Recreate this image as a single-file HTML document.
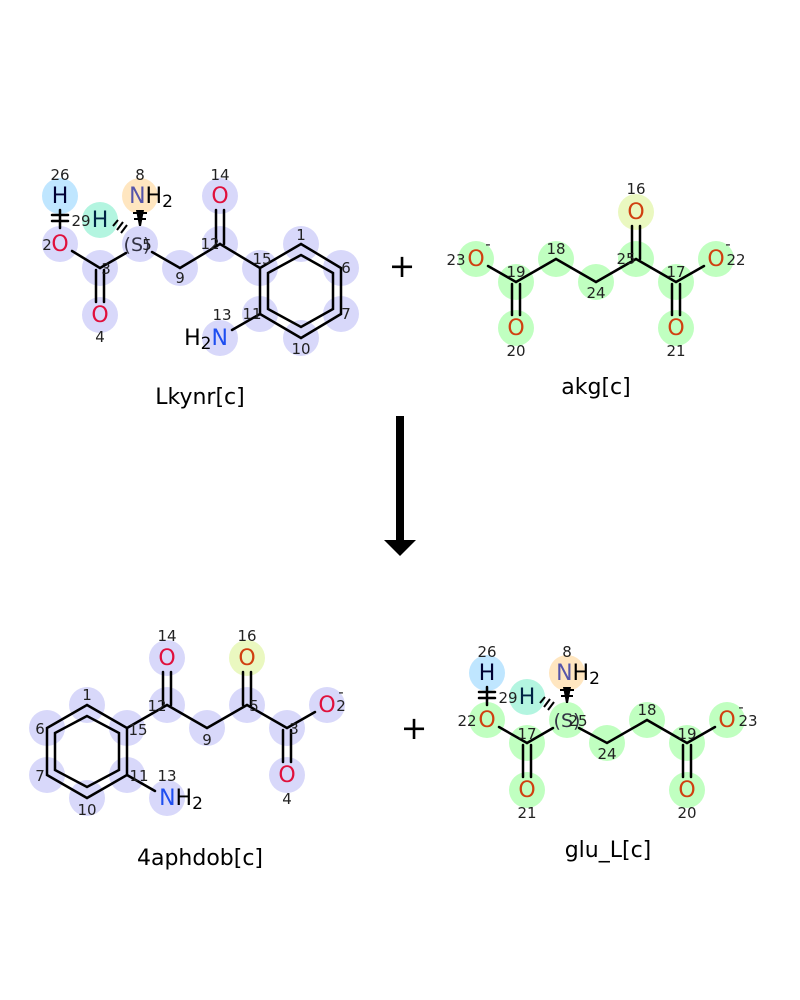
<!DOCTYPE html>
<html><head><meta charset="utf-8"><style>
html,body{margin:0;padding:0;background:#fff;width:800px;height:1000px;overflow:hidden}
svg{font-family:"DejaVu Sans","Liberation Sans",sans-serif}
.b{stroke:#000;stroke-width:2.5;fill:none;stroke-linecap:round}
.e{font-size:22px;text-anchor:middle}
.n{font-size:15px;text-anchor:middle;fill:#222}
.t{font-size:22px;text-anchor:middle}
</style></head><body>
<svg width="800" height="1000" viewBox="0 0 800 1000">
<!-- Lkynr circles -->
<g fill="#d8d8fa">
<circle cx="60" cy="244" r="18"/><circle cx="100" cy="268" r="18"/><circle cx="100" cy="315" r="18"/><circle cx="140" cy="244" r="18"/>
<circle cx="180" cy="268" r="18"/><circle cx="220" cy="244" r="18"/><circle cx="220" cy="196" r="18"/><circle cx="260" cy="268" r="18"/>
<circle cx="301" cy="244" r="18"/><circle cx="341" cy="268" r="18"/><circle cx="341" cy="314" r="18"/><circle cx="301" cy="338" r="18"/>
<circle cx="260" cy="314" r="18"/><circle cx="220" cy="338" r="18"/>
</g>
<circle cx="60" cy="196" r="18" fill="#bfe6ff"/><circle cx="100" cy="220" r="18" fill="#b3f5e0"/><circle cx="140" cy="196" r="18" fill="#ffe6c0"/>
<g class="b">
<line x1="72" y1="251" x2="100" y2="268"/><line x1="96" y1="270" x2="96" y2="302"/><line x1="104" y1="270" x2="104" y2="302"/>
<line x1="100" y1="268" x2="126" y2="253"/><line x1="152" y1="252" x2="180" y2="268"/><line x1="180" y1="268" x2="220" y2="244"/>
<line x1="216" y1="244" x2="216" y2="210"/><line x1="224" y1="244" x2="224" y2="210"/><line x1="220" y1="244" x2="260" y2="268"/>
<polygon points="260,268 301,244 341,268 341,314 301,338 260,314"/>
<polygon points="268,273 301,255 333,273 333,309 301,327 268,309"/>
<line x1="260" y1="314" x2="232" y2="330"/>
<line x1="52" y1="215" x2="68" y2="215"/><line x1="52" y1="221" x2="68" y2="221"/><line x1="60" y1="210" x2="60" y2="228"/>
</g>
<polygon points="136,210 144,210 141,226 139,226" fill="#000"/>
<g stroke="#000" stroke-width="2"><line x1="133" y1="213" x2="147" y2="213"/><line x1="134" y1="219" x2="146" y2="219"/>
<line x1="113" y1="226" x2="118" y2="220"/><line x1="117" y1="230" x2="123" y2="222"/><line x1="121" y1="233" x2="127" y2="225"/></g>
<g class="e">
<text x="60" y="203" fill="#003">H</text><text x="60" y="251" fill="#e0103c">O</text><text x="100" y="322" fill="#e0103c">O</text>
<text x="100" y="227" fill="#024">H</text><text x="151" y="203"><tspan fill="#55a">N</tspan><tspan fill="#000">H</tspan><tspan font-size="17" dy="4">2</tspan></text>
<text x="220" y="203" fill="#e0103c">O</text><text x="206" y="345"><tspan fill="#000">H</tspan><tspan font-size="17" dy="4">2</tspan><tspan dy="-4" fill="#1e4ef0">N</tspan></text>
<text x="137" y="251" fill="#334" font-size="19">(S)</text>
</g>
<g class="n">
<text x="60" y="180">26</text><text x="47" y="250">2</text><text x="106" y="274">3</text><text x="100" y="342">4</text><text x="81" y="226">29</text><text x="147" y="250">5</text>
<text x="140" y="180">8</text><text x="180" y="283">9</text><text x="210" y="249">12</text><text x="220" y="180">14</text><text x="262" y="264">15</text>
<text x="301" y="240">1</text><text x="346" y="273">6</text><text x="346" y="319">7</text><text x="301" y="354">10</text><text x="252" y="319">11</text><text x="222" y="320">13</text>
</g>
<text class="t" x="200" y="404">Lkynr[c]</text>

<!-- akg -->
<g fill="#c0ffc0">
<circle cx="476" cy="259" r="18"/><circle cx="516" cy="282" r="18"/><circle cx="516" cy="328" r="18"/><circle cx="556" cy="259" r="18"/>
<circle cx="596" cy="282" r="18"/><circle cx="636" cy="259" r="18"/><circle cx="676" cy="282" r="18"/><circle cx="676" cy="328" r="18"/><circle cx="716" cy="259" r="18"/>
</g>
<circle cx="636" cy="212" r="18" fill="#eaf8c0"/>
<g class="b">
<line x1="488" y1="266" x2="516" y2="282"/><line x1="512" y1="284" x2="512" y2="315"/><line x1="520" y1="284" x2="520" y2="315"/>
<polyline points="516,282 556,259 596,282 636,259 676,282 704,266"/>
<line x1="632" y1="259" x2="632" y2="226"/><line x1="640" y1="259" x2="640" y2="226"/>
<line x1="672" y1="284" x2="672" y2="315"/><line x1="680" y1="284" x2="680" y2="315"/>
</g>
<g class="e" fill="#d04010">
<text x="476" y="266">O</text><text x="516" y="335">O</text><text x="636" y="219">O</text><text x="676" y="335">O</text><text x="716" y="266">O</text>
</g>
<g class="n">
<text x="456" y="265">23</text><text x="488" y="249">-</text><text x="516" y="277">19</text><text x="516" y="356">20</text><text x="556" y="254">18</text><text x="596" y="298">24</text>
<text x="636" y="194">16</text><text x="626" y="264">25</text><text x="676" y="277">17</text><text x="676" y="356">21</text><text x="736" y="265">22</text><text x="728" y="249">-</text>
</g>
<text class="t" x="596" y="394">akg[c]</text>

<text x="402" y="277" font-size="32" text-anchor="middle">+</text>
<text x="414" y="739" font-size="32" text-anchor="middle">+</text>

<rect x="396" y="416" width="8" height="124" fill="#000"/>
<polygon points="384,540 416,540 400,556" fill="#000"/>

<!-- 4aphdob -->
<g fill="#d8d8fa">
<circle cx="87" cy="705" r="18"/><circle cx="47" cy="728" r="18"/><circle cx="47" cy="775" r="18"/><circle cx="87" cy="798" r="18"/>
<circle cx="127" cy="775" r="18"/><circle cx="127" cy="728" r="18"/><circle cx="167" cy="705" r="18"/><circle cx="167" cy="658" r="18"/>
<circle cx="207" cy="728" r="18"/><circle cx="247" cy="705" r="18"/><circle cx="287" cy="728" r="18"/><circle cx="287" cy="775" r="18"/>
<circle cx="327" cy="705" r="18"/><circle cx="167" cy="798" r="18"/>
</g>
<circle cx="247" cy="658" r="18" fill="#eaf8c0"/>
<g class="b">
<polygon points="87,705 47,728 47,775 87,798 127,775 127,728"/>
<polygon points="87,716 55,733 55,770 87,787 119,770 119,733"/>
<polyline points="127,728 167,705 207,728 247,705 287,728 315,712"/>
<line x1="163" y1="705" x2="163" y2="672"/><line x1="171" y1="705" x2="171" y2="672"/>
<line x1="243" y1="705" x2="243" y2="672"/><line x1="251" y1="705" x2="251" y2="672"/>
<line x1="283" y1="730" x2="283" y2="762"/><line x1="291" y1="730" x2="291" y2="762"/>
<line x1="127" y1="775" x2="155" y2="791"/>
</g>
<g class="e">
<text x="167" y="665" fill="#e0103c">O</text><text x="247" y="665" fill="#d04010">O</text><text x="287" y="782" fill="#e0103c">O</text><text x="327" y="712" fill="#e0103c">O</text>
<text x="181" y="805"><tspan fill="#1e4ef0">N</tspan><tspan fill="#000">H</tspan><tspan font-size="17" dy="4">2</tspan></text>
</g>
<g class="n">
<text x="87" y="700">1</text><text x="40" y="734">6</text><text x="40" y="781">7</text><text x="87" y="815">10</text><text x="139" y="781">11</text><text x="138" y="735">15</text>
<text x="157" y="711">12</text><text x="167" y="641">14</text><text x="207" y="745">9</text><text x="254" y="711">5</text><text x="247" y="641">16</text>
<text x="294" y="734">3</text><text x="287" y="804">4</text><text x="341" y="711">2</text><text x="341" y="697">-</text><text x="167" y="781">13</text>
</g>
<text class="t" x="200" y="865">4aphdob[c]</text>

<!-- glu_L -->
<g fill="#c0ffc0">
<circle cx="487" cy="720" r="18"/><circle cx="527" cy="743" r="18"/><circle cx="527" cy="790" r="18"/><circle cx="567" cy="720" r="18"/>
<circle cx="607" cy="743" r="18"/><circle cx="647" cy="720" r="18"/><circle cx="687" cy="743" r="18"/><circle cx="687" cy="790" r="18"/><circle cx="727" cy="720" r="18"/>
</g>
<circle cx="487" cy="673" r="18" fill="#bfe6ff"/><circle cx="527" cy="697" r="18" fill="#b3f5e0"/><circle cx="567" cy="673" r="18" fill="#ffe6c0"/>
<g class="b">
<line x1="499" y1="727" x2="527" y2="743"/><line x1="523" y1="745" x2="523" y2="777"/><line x1="531" y1="745" x2="531" y2="777"/>
<line x1="527" y1="743" x2="553" y2="728"/><polyline points="579,728 607,743 647,720 687,743 715,727"/>
<line x1="683" y1="745" x2="683" y2="777"/><line x1="691" y1="745" x2="691" y2="777"/>
<line x1="479" y1="692" x2="495" y2="692"/><line x1="479" y1="698" x2="495" y2="698"/><line x1="487" y1="687" x2="487" y2="705"/>
</g>
<polygon points="563,687 571,687 568,703 566,703" fill="#000"/>
<g stroke="#000" stroke-width="2"><line x1="560" y1="690" x2="574" y2="690"/><line x1="561" y1="696" x2="573" y2="696"/>
<line x1="540" y1="703" x2="545" y2="697"/><line x1="544" y1="707" x2="550" y2="699"/><line x1="548" y1="710" x2="554" y2="702"/></g>
<g class="e">
<text x="487" y="680" fill="#003">H</text><text x="527" y="704" fill="#024">H</text>
<text x="578" y="680"><tspan fill="#55a">N</tspan><tspan fill="#000">H</tspan><tspan font-size="17" dy="4">2</tspan></text>
<text x="487" y="727" fill="#d04010">O</text><text x="527" y="797" fill="#d04010">O</text><text x="687" y="797" fill="#d04010">O</text><text x="727" y="727" fill="#d04010">O</text>
<text x="567" y="727" fill="#334" font-size="19">(S)</text>
</g>
<g class="n">
<text x="487" y="657">26</text><text x="508" y="703">29</text><text x="567" y="657">8</text><text x="467" y="726">22</text><text x="527" y="739">17</text><text x="527" y="818">21</text>
<text x="578" y="726">25</text><text x="607" y="759">24</text><text x="647" y="715">18</text><text x="687" y="739">19</text><text x="687" y="818">20</text>
<text x="748" y="726">23</text><text x="741" y="712">-</text>
</g>
<text class="t" x="608" y="857">glu_L[c]</text>
</svg>
</body></html>
